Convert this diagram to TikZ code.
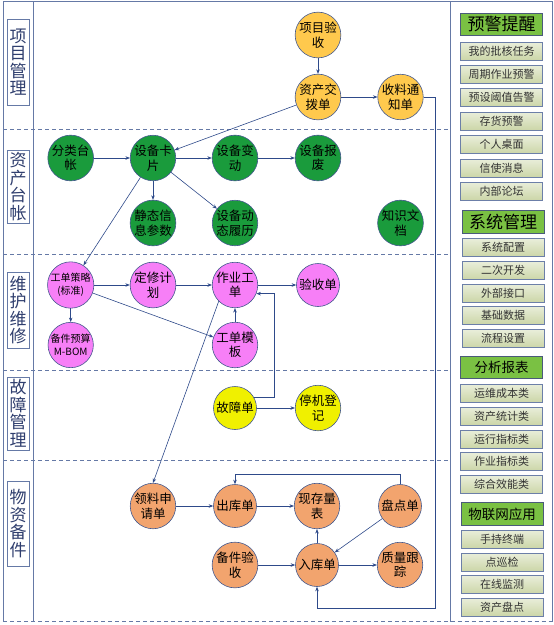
\documentclass[tikz,border=0pt]{standalone}
\usepackage{fontspec}
\setmainfont{Noto Sans CJK SC}
\usetikzlibrary{arrows.meta}
\definecolor{corange}{HTML}{FFC94D}
\definecolor{cgreen}{HTML}{1A9B3C}
\definecolor{cpink}{HTML}{F77FF7}
\definecolor{cyellow}{HTML}{F0F000}
\definecolor{csalmon}{HTML}{F2A46E}
\definecolor{cborder}{HTML}{44598E}
\definecolor{cline}{HTML}{2E4A8A}
\definecolor{cframe}{HTML}{6579A6}
\definecolor{clabel}{HTML}{2F3E6E}
\definecolor{ihigh}{HTML}{E9EEDA}
\definecolor{ilow}{HTML}{CCD6A8}
\definecolor{iborder}{HTML}{6C7FA8}
\definecolor{itext}{HTML}{333333}
\definecolor{hgreen}{HTML}{7AC143}
\definecolor{hborder}{HTML}{4A5A7A}
\tikzset{
  nd/.style={circle, draw=cborder, line width=0.6pt, minimum size=43pt, inner sep=0pt, align=center, font=\fontsize{12.5}{14.5}\selectfont, text=black},
  ndsmall/.style={nd, font=\fontsize{10}{13}\selectfont},
  org/.style={nd, fill=corange},
  grn/.style={nd, fill=cgreen},
  pnk/.style={nd, fill=cpink},
  pnks/.style={ndsmall, fill=cpink},
  yel/.style={nd, fill=cyellow},
  sal/.style={nd, fill=csalmon},
  conn/.style={draw=cline, line width=0.6pt, -{Stealth[length=4.5pt,width=3.5pt]}},
  frameline/.style={draw=cframe, line width=0.9pt},
  lanedash/.style={draw=cframe, line width=0.9pt, dash pattern=on 4pt off 3pt},
  lanelabel/.style={draw=cframe, fill=white, line width=0.7pt, minimum width=22pt, inner sep=0pt, align=center, text=clabel, font=\fontsize{17}{17.5}\selectfont},
  item/.style={draw=iborder, line width=0.6pt, top color=ihigh, bottom color=ilow, minimum width=82pt, minimum height=18pt, inner sep=0pt, font=\fontsize{11}{11}\selectfont, text=itext},
  header/.style={draw=hborder, line width=0.7pt, fill=hgreen, minimum width=82pt, minimum height=22.5pt, inner sep=0pt, text=black},
}
\begin{document}
\begin{tikzpicture}[x=1pt,y=-1pt]
\useasboundingbox (0,0) rectangle (554,625);
% frame
\draw[frameline] (3,621.7) -- (3,1) -- (552,1) -- (552,621.7);
\draw[frameline] (450.7,1) -- (450.7,621.7);
\draw[draw=cframe, line width=1.3pt] (33.5,1) -- (33.5,621.7);
\foreach \yy in {129,254,370.7,460,621.7} {\draw[lanedash] (3,\yy) -- (450.7,\yy);}
\draw[lanedash] (450.7,621.7) -- (552,621.7);
% lane labels
\node[lanelabel, minimum height=86pt] (l1) at (18,62) {项\\目\\管\\理};
\node[lanelabel, minimum height=73pt] (l2) at (18,186.5) {资\\产\\台\\帐};
\node[lanelabel, minimum height=76pt] (l3) at (18,310) {维\\护\\维\\修};
\node[lanelabel, minimum height=73pt] (l4) at (18,413.5) {故\\障\\管\\理};
\node[lanelabel, minimum height=85pt] (l5) at (18,523.5) {物\\资\\备\\件};
% nodes
\node[org] (xmys) at (318,35) {项目验\\收};
\node[org] (zcjb) at (318,97) {资产交\\拨单};
\node[org] (sltz) at (400.5,97) {收料通\\知单};
\node[grn] (fltz) at (70.7,158) {分类台\\帐};
\node[grn] (sbkp) at (153,158) {设备卡\\片};
\node[grn] (sbbd) at (235,158) {设备变\\动};
\node[grn] (sbbf) at (318,158) {设备报\\废};
\node[grn] (jtxx) at (153,223) {静态信\\息参数};
\node[grn] (sbdt) at (235,223) {设备动\\态履历};
\node[grn] (zswd) at (400.5,223) {知识文\\档};
\node[pnks] (gdcl) at (70.7,285) {工单策略\\(标准)};
\node[pnk] (dxjh) at (153,285) {定修计\\划};
\node[pnk] (zygd) at (235,285) {作业工\\单};
\node[pnk] (ysd) at (318,285) {验收单};
\node[pnks] (bjys) at (70.7,345) {备件预算\\M-BOM};
\node[pnk] (gdmb) at (235,345) {工单模\\板};
\node[yel] (gzd) at (235,408) {故障单};
\node[yel] (tjdj) at (318,408) {停机登\\记};
\node[sal] (llsq) at (153,506) {领料申\\请单};
\node[sal] (ckd) at (235,506) {出库单};
\node[sal] (xclb) at (317,506) {现存量\\表};
\node[sal] (pdd) at (400,506) {盘点单};
\node[sal] (bjyx) at (235,565) {备件验\\收};
\node[sal] (rkd) at (317,565) {入库单};
\node[sal] (zlgz) at (400,565) {质量跟\\踪};
% connectors
\draw[conn] (xmys) -- (zcjb);
\draw[conn] (zcjb) -- (sltz);
\draw[conn] (zcjb) -- (sbkp);
\coordinate (r1) at (435,608);
\coordinate (r2) at (317,608);
\draw[conn] (sltz.east) -| (r1) -- (r2) -- (rkd.south);
\draw[conn] (fltz) -- (sbkp);
\draw[conn] (sbkp) -- (sbbd);
\draw[conn] (sbbd) -- (sbbf);
\draw[conn] (sbkp) -- (jtxx);
\draw[conn] (sbkp) -- (sbdt);
\draw[conn] (sbkp) -- (gdcl);
\draw[conn] (gdcl) -- (dxjh);
\draw[conn] (dxjh) -- (zygd);
\draw[conn] (zygd) -- (ysd);
\draw[conn] (gdcl) -- (bjys);
\draw[conn] (gdcl) -- (gdmb);
\draw[conn] (gdmb) -- (zygd);
\draw[conn] (gzd.30) -| ([xshift=18pt]zygd.-22) -- (zygd.-22);
\draw[conn] (gzd) -- (tjdj);
\draw[conn] (zygd.225) -- (llsq.north);
\draw[conn] (llsq) -- (ckd);
\draw[conn] (ckd) -- (xclb);
\coordinate (c2) at (235,474);
\draw[conn] (pdd.north) |- (c2) -- (ckd.north);
\draw[conn] (pdd) -- (rkd);
\draw[conn] (bjyx) -- (rkd);
\draw[conn, line width=0.9pt] (rkd) -- (xclb);
\draw[conn] (rkd) -- (zlgz);
% right panel
\node[header, font=\fontsize{17}{17}\selectfont] (h1) at (501.5,24.5) {预警提醒};
\node[item] (a1) at (501.5,51) {我的批核任务};
\node[item] (a2) at (501.5,74) {周期作业预警};
\node[item] (a3) at (501.5,97.5) {预设阈值告警};
\node[item] (a4) at (501.5,121) {存货预警};
\node[item] (a5) at (501.5,144.5) {个人桌面};
\node[item] (a6) at (501.5,168) {信使消息};
\node[item] (a7) at (501.5,191) {内部论坛};
\node[header, font=\fontsize{17}{17}\selectfont] (h2) at (503,222) {系统管理};
\node[item] (b1) at (503,247.5) {系统配置};
\node[item] (b2) at (503,270.5) {二次开发};
\node[item] (b3) at (503,293) {外部接口};
\node[item] (b4) at (503,315) {基础数据};
\node[item] (b5) at (503,338.5) {流程设置};
\node[header, font=\fontsize{13.5}{13.5}\selectfont] (h3) at (501.5,367.5) {分析报表};
\node[item] (c1) at (501.5,393) {运维成本类};
\node[item] (cc2) at (501.5,416) {资产统计类};
\node[item] (c3) at (501.5,439) {运行指标类};
\node[item] (c4) at (501.5,461.5) {作业指标类};
\node[item] (c5) at (501.5,484.5) {综合效能类};
\node[header, font=\fontsize{13.5}{13.5}\selectfont] (h4) at (502,514) {物联网应用};
\node[item] (d1) at (502,539) {手持终端};
\node[item] (d2) at (502,562) {点巡检};
\node[item] (d3) at (502,584.5) {在线监测};
\node[item] (d4) at (502,607) {资产盘点};
\end{tikzpicture}
\end{document}
